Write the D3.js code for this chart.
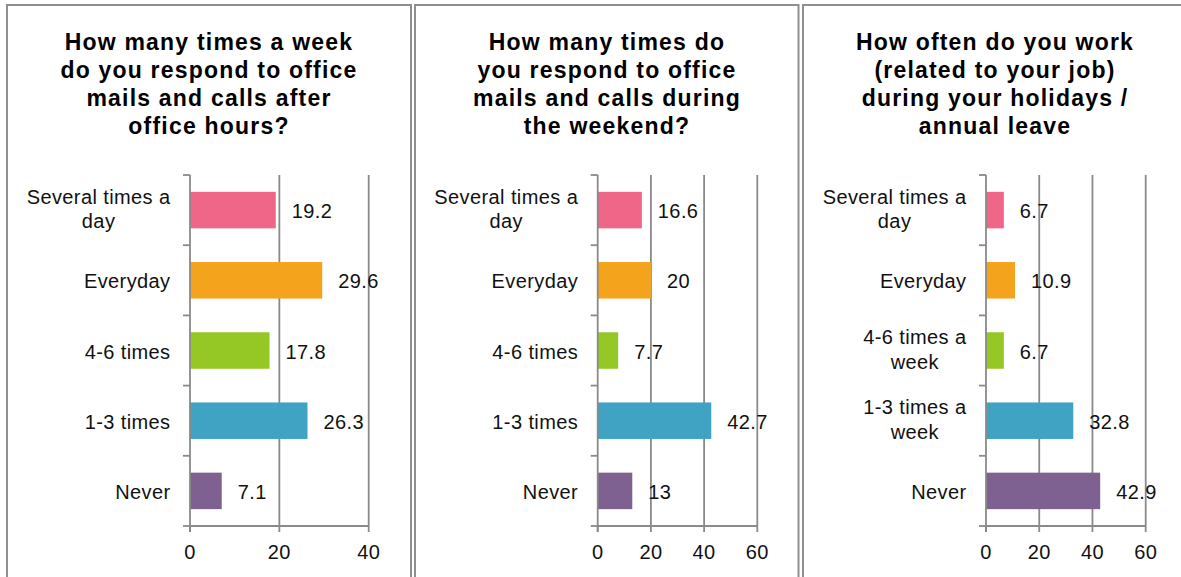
<!DOCTYPE html>
<html>
<head>
<meta charset="utf-8">
<script src="https://cdn.jsdelivr.net/npm/d3@7"></script>
<style>
  html, body { margin: 0; padding: 0; background: #ffffff; }
  svg { display: block; font-family: "Liberation Sans", Arial, sans-serif; }
</style>
</head>
<body>
<script>
// Survey answers (percent of respondents), one array per question
const titlesAfterHours = ["How many times a week", "do you respond to office", "mails and calls after", "office hours?"];
const categoriesAfterHours = ["Several times a\nday", "Everyday", "4-6 times", "1-3 times", "Never"];
const valuesAfterHours = [19.2, 29.6, 17.8, 26.3, 7.1];
const ticksAfterHours = [0, 20, 40];

const titlesWeekend = ["How many times do", "you respond to office", "mails and calls during", "the weekend?"];
const categoriesWeekend = ["Several times a\nday", "Everyday", "4-6 times", "1-3 times", "Never"];
const valuesWeekend = [16.6, 20, 7.7, 42.7, 13];
const ticksWeekend = [0, 20, 40, 60];

const titlesHolidays = ["How often do you work", "(related to your job)", "during your holidays /", "annual leave"];
const categoriesHolidays = ["Several times a\nday", "Everyday", "4-6 times a\nweek", "1-3 times a\nweek", "Never"];
const valuesHolidays = [6.7, 10.9, 6.7, 32.8, 42.9];
const ticksHolidays = [0, 20, 40, 60];

const barColors = ["#EF6689", "#F4A31D", "#95C824", "#41A3C3", "#7E6091"];

const W = 1181, H = 577;
const gridColor = "#8a8a8a";
const textColor = "#111111";

const svg = d3.select("body").append("svg")
  .attr("width", W).attr("height", H);
svg.append("rect").attr("width", W).attr("height", H).attr("fill", "#fff");

// layout of each panel: frame box, title centre, plot range
const panels = [
  { titles: titlesAfterHours, cats: categoriesAfterHours, vals: valuesAfterHours, ticks: ticksAfterHours,
    frame: [7, 411], titleX: 209, xRange: [190, 368.7] },
  { titles: titlesWeekend, cats: categoriesWeekend, vals: valuesWeekend, ticks: ticksWeekend,
    frame: [415, 798.5], titleX: 607, xRange: [597.7, 757.3] },
  { titles: titlesHolidays, cats: categoriesHolidays, vals: valuesHolidays, ticks: ticksHolidays,
    frame: [803, 1187], titleX: 995, xRange: [986, 1145.7] }
];

const plotTop = 175, plotBottom = 526;

panels.forEach(p => {
  const g = svg.append("g");

  // frame
  g.append("rect")
    .attr("x", p.frame[0]).attr("y", 5)
    .attr("width", p.frame[1] - p.frame[0]).attr("height", H + 20)
    .attr("fill", "none").attr("stroke", "#8f8f8f").attr("stroke-width", 2);

  // title
  const title = g.append("text")
    .attr("text-anchor", "middle")
    .attr("font-weight", "bold")
    .attr("font-size", 23)
    .attr("letter-spacing", 1.2)
    .attr("fill", "#000");
  p.titles.forEach((t, i) => {
    title.append("tspan").attr("x", p.titleX).attr("y", 50 + i * 28).text(t);
  });

  const x = d3.scaleLinear().domain([p.ticks[0], p.ticks[p.ticks.length - 1]]).range(p.xRange);
  const y = d3.scaleBand().domain(p.cats).range([plotTop, plotBottom])
    .paddingInner(0.48).paddingOuter(0.24);
  const step = y.step();

  // vertical gridlines
  g.selectAll(".grid").data(p.ticks.slice(1)).join("line")
    .attr("x1", d => x(d)).attr("x2", d => x(d))
    .attr("y1", plotTop).attr("y2", plotBottom)
    .attr("stroke", gridColor).attr("stroke-width", 1.8);

  // bars
  g.selectAll(".bar").data(p.vals).join("rect")
    .attr("x", x(0))
    .attr("y", (d, i) => y(p.cats[i]))
    .attr("width", d => x(d) - x(0))
    .attr("height", y.bandwidth())
    .attr("fill", (d, i) => barColors[i]);

  // category axis with boundary ticks
  const x0 = x(0);
  g.append("line").attr("x1", x0).attr("x2", x0).attr("y1", plotTop).attr("y2", plotBottom + 6)
    .attr("stroke", gridColor).attr("stroke-width", 1.8);
  d3.range(p.cats.length + 1).forEach(k => {
    const yy = plotTop + k * step;
    g.append("line").attr("x1", x0 - 7).attr("x2", x0).attr("y1", yy).attr("y2", yy)
      .attr("stroke", gridColor).attr("stroke-width", 1.8);
  });

  // value axis
  g.append("line").attr("x1", x0).attr("x2", x(p.ticks[p.ticks.length - 1]))
    .attr("y1", plotBottom).attr("y2", plotBottom)
    .attr("stroke", gridColor).attr("stroke-width", 1.8);
  g.selectAll(".xtick").data(p.ticks).join("line")
    .attr("x1", d => x(d)).attr("x2", d => x(d))
    .attr("y1", plotBottom).attr("y2", plotBottom + 6)
    .attr("stroke", gridColor).attr("stroke-width", 1.8);
  g.selectAll(".xlabel").data(p.ticks).join("text")
    .attr("x", d => x(d)).attr("y", 559)
    .attr("text-anchor", "middle").attr("font-size", 20).attr("letter-spacing", 0.4)
    .attr("fill", textColor).text(d => d);

  // value labels
  g.selectAll(".val").data(p.vals).join("text")
    .attr("x", d => x(d) + 16)
    .attr("y", (d, i) => y(p.cats[i]) + y.bandwidth() / 2 + 8)
    .attr("font-size", 20).attr("letter-spacing", 0.4)
    .attr("fill", textColor).text(d => d);

  // category labels: block right-aligned, lines centred within block
  const rightEdge = x0 - 19.5;
  p.cats.forEach(c => {
    const lines = c.split("\n");
    const cy = y(c) + y.bandwidth() / 2;
    const nodes = lines.map((ln, i) => g.append("text")
      .attr("font-size", 20).attr("letter-spacing", 0.4)
      .attr("fill", textColor)
      .attr("text-anchor", "middle")
      .attr("y", lines.length === 1 ? cy + 8 : cy + 6 + (i - (lines.length - 1) / 2) * 24.5)
      .text(ln));
    const widths = nodes.map(n => n.node().getComputedTextLength());
    const maxW = d3.max(widths);
    nodes.forEach(n => n.attr("x", rightEdge - maxW / 2));
  });
});
</script>
</body>
</html>
